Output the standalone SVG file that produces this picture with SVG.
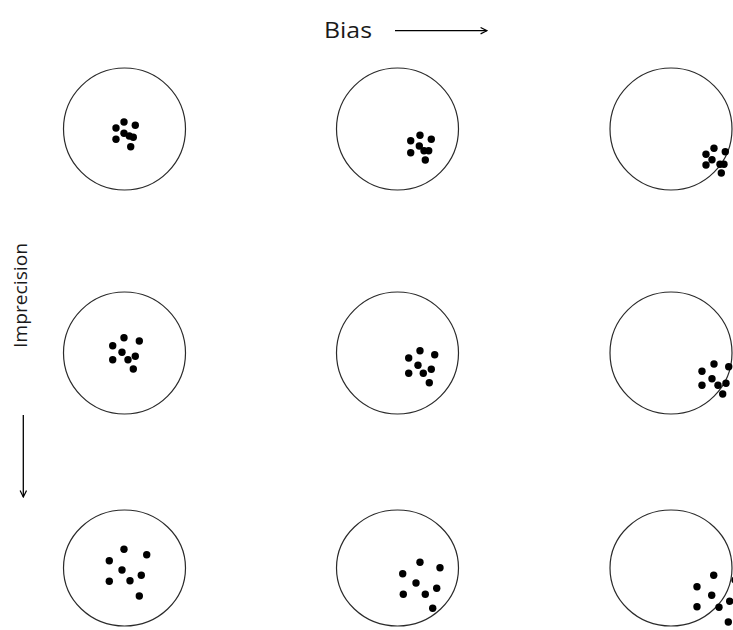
<svg xmlns="http://www.w3.org/2000/svg" width="733" height="630" viewBox="0 0 733 630">
<defs>
<style>
.t{fill:none;stroke:#2a2a2a;stroke-width:1.2}
.d circle{fill:#000;r:3.7px}
.lbl{font-family:"Open Sans","Liberation Sans",sans-serif;fill:#1a1a1a}
.ax{stroke:#000;stroke-width:1.3;fill:none}
</style>
<marker id="ah" viewBox="0 0 10 10" refX="9" refY="5" markerWidth="8" markerHeight="8" markerUnits="userSpaceOnUse" orient="auto">
<path d="M1,1 L9,5 L1,9" fill="none" stroke="#000" stroke-width="1.5"/>
</marker>
</defs>
<rect width="733" height="630" fill="#fff"/>
<text class="lbl" x="324" y="37.5" font-size="21" textLength="48" lengthAdjust="spacingAndGlyphs">Bias</text>
<text class="lbl" transform="translate(27,348) rotate(-90)" font-size="18.5" textLength="105" lengthAdjust="spacingAndGlyphs">Imprecision</text>
<g id="connectors">
<line class="ax" x1="395" y1="30.7" x2="487" y2="30.7" marker-end="url(#ah)"/>
<line class="ax" x1="23.3" y1="415" x2="23.3" y2="497" marker-end="url(#ah)"/>
</g>
<g id="t11"><circle class="t" cx="124.5" cy="129" r="61"/>
<g class="d"><circle cx="124" cy="122" r="3.7"/><circle cx="135.3" cy="125.3" r="3.7"/><circle cx="116" cy="128" r="3.7"/><circle cx="124" cy="133.3" r="3.7"/><circle cx="116" cy="139.3" r="3.7"/><circle cx="129.3" cy="136" r="3.7"/><circle cx="133.3" cy="137.3" r="3.7"/><circle cx="130.7" cy="146.7" r="3.7"/></g></g>
<g id="t12"><circle class="t" cx="397.5" cy="129" r="61"/>
<g class="d"><circle cx="420" cy="135.3" r="3.7"/><circle cx="431.3" cy="139.3" r="3.7"/><circle cx="410.7" cy="140.7" r="3.7"/><circle cx="419.3" cy="146" r="3.7"/><circle cx="410.7" cy="152.7" r="3.7"/><circle cx="424" cy="150.7" r="3.7"/><circle cx="428.7" cy="150.7" r="3.7"/><circle cx="425.3" cy="160" r="3.7"/></g></g>
<g id="t13"><circle class="t" cx="671" cy="129" r="61"/>
<g class="d"><circle cx="714" cy="148.3" r="3.7"/><circle cx="725.3" cy="151.7" r="3.7"/><circle cx="706" cy="154.3" r="3.7"/><circle cx="712" cy="159.7" r="3.7"/><circle cx="706" cy="165" r="3.7"/><circle cx="720" cy="164.3" r="3.7"/><circle cx="724" cy="164.3" r="3.7"/><circle cx="721.3" cy="173" r="3.7"/></g></g>
<g id="t21"><circle class="t" cx="124.5" cy="353" r="61"/>
<g class="d"><circle cx="124" cy="337.7" r="3.7"/><circle cx="139.3" cy="341" r="3.7"/><circle cx="112.7" cy="345.7" r="3.7"/><circle cx="122" cy="352.3" r="3.7"/><circle cx="112.7" cy="359.7" r="3.7"/><circle cx="128" cy="359.7" r="3.7"/><circle cx="135.3" cy="356.3" r="3.7"/><circle cx="133.3" cy="369" r="3.7"/></g></g>
<g id="t22"><circle class="t" cx="397.5" cy="353" r="61"/>
<g class="d"><circle cx="420" cy="350.7" r="3.7"/><circle cx="434.7" cy="354.7" r="3.7"/><circle cx="408.7" cy="358" r="3.7"/><circle cx="418" cy="365.3" r="3.7"/><circle cx="408.7" cy="373.3" r="3.7"/><circle cx="423.3" cy="373.3" r="3.7"/><circle cx="431.3" cy="369.3" r="3.7"/><circle cx="429.3" cy="382.7" r="3.7"/></g></g>
<g id="t23"><circle class="t" cx="671" cy="353" r="61"/>
<g class="d"><circle cx="714" cy="364" r="3.7"/><circle cx="728.7" cy="366.7" r="3.7"/><circle cx="702" cy="371.3" r="3.7"/><circle cx="712" cy="378.7" r="3.7"/><circle cx="702" cy="385.3" r="3.7"/><circle cx="718" cy="385.3" r="3.7"/><circle cx="726" cy="383.3" r="3.7"/><circle cx="722.7" cy="394" r="3.7"/></g></g>
<g id="t31"><ellipse class="t" cx="124.5" cy="568" rx="61" ry="58"/>
<g class="d"><circle cx="124" cy="549.3" r="3.7"/><circle cx="146.7" cy="554.7" r="3.7"/><circle cx="109.3" cy="560.7" r="3.7"/><circle cx="122" cy="570" r="3.7"/><circle cx="109.3" cy="581.3" r="3.7"/><circle cx="130" cy="580.7" r="3.7"/><circle cx="141.3" cy="575.3" r="3.7"/><circle cx="139.3" cy="596" r="3.7"/></g></g>
<g id="t32"><ellipse class="t" cx="397.5" cy="568" rx="61" ry="58"/>
<g class="d"><circle cx="420" cy="562.3" r="3.7"/><circle cx="440" cy="567.7" r="3.7"/><circle cx="402.7" cy="573.7" r="3.7"/><circle cx="416" cy="583" r="3.7"/><circle cx="403.3" cy="594.3" r="3.7"/><circle cx="425.3" cy="594.3" r="3.7"/><circle cx="436.7" cy="588.3" r="3.7"/><circle cx="432.7" cy="608.3" r="3.7"/></g></g>
<g id="t33"><ellipse class="t" cx="671" cy="568" rx="61" ry="58"/>
<g class="d"><circle cx="713.7" cy="575.3" r="3.7"/><circle cx="735" cy="580" r="3.7"/><circle cx="697" cy="586.7" r="3.7"/><circle cx="711.7" cy="595.3" r="3.7"/><circle cx="697" cy="606.7" r="3.7"/><circle cx="719" cy="607.3" r="3.7"/><circle cx="729.7" cy="601.3" r="3.7"/><circle cx="728.3" cy="622" r="3.7"/></g></g>
</svg>
